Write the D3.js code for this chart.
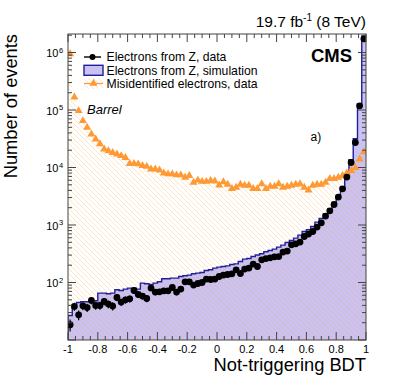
<!DOCTYPE html>
<html>
<head>
<meta charset="utf-8">
<script src="https://cdn.jsdelivr.net/npm/d3@7"></script>
<style>
  body { margin: 0; background: #fff; }
  svg { display: block; font-family: "Liberation Sans", Arial, sans-serif; }
</style>
</head>
<body>
<div id="chart"></div>
<script>
// 70 bins of the not-triggering BDT output, from -1 to 1
var nBins = 70;
var xMin = -1, xMax = 1;

// electrons from Z, data (black points)
var zData = [18.4, 38.3, 27.4, 39.3, 36.7, 48.6, 39.8, 39.8, 46.8, 42.1,
    38.9, 54.8, 45.6, 50.0, 52.1, 72.6, 61.8, 58.0, 52.7, 80.0,
    68.1, 68.9, 71.7, 71.7, 81.9, 68.1, 76.8, 102.8, 102.8, 90.1,
    96.1, 100, 114.6, 112.8, 114.6, 127.1, 134.5, 137.8, 141.7, 166.3,
    143.4, 171, 178, 208.9, 189.8, 248, 261, 269, 280, 283,
    338, 352, 453, 471, 504, 631, 695, 771, 919, 1092,
    1429, 1766, 2274, 3055, 4265, 6808, 12220, 27220, 118300, 1730000];

// electrons from Z, simulation (blue histogram)
var zSim = [26.7, 41.0, 44.9, 46.2, 46.2, 48.1, 48.1, 65.4, 65.4, 63.6,
    65.4, 74.6, 72.6, 76.8, 79.9, 79.9, 76.8, 97.6, 94.9, 92.3,
    97.6, 102.8, 116, 116, 119, 119, 127, 131, 134.5, 141.7,
    145.7, 149.3, 161.7, 166.3, 178, 185, 190, 195, 206, 211,
    232, 255, 261, 283, 300, 316, 342, 360, 381, 413,
    447, 496, 537, 591, 667, 771, 826, 942, 1122, 1297,
    1566, 1891, 2404, 3133, 4617, 7766, 13620, 31560, 128200, 1950000];

// misidentified electrons, data (orange triangles)
var fakeData = [950000, 168000, 97000, 65000, 49700, 38100, 31200, 25800, 20900, 19500,
    18200, 17100, 16000, 14900, 11700, 11700, 11500, 10800, 10400, 9400,
    9400, 9000, 8000, 7700, 7700, 7400, 7400, 6700, 7200, 5500,
    6000, 5700, 5700, 5900, 5800, 4940, 5600, 5100, 4300, 4500,
    5100, 4900, 4900, 4300, 4300, 5200, 4300, 4700, 4700, 5200,
    4500, 4700, 4900, 5100, 5200, 4500, 4050, 4900, 5100, 5100,
    5500, 6400, 6400, 6700, 7200, 8000, 8800, 9900, 14000, 18700];

var xTickVals = [-1, -0.8, -0.6, -0.4, -0.2, 0, 0.2, 0.4, 0.6, 0.8, 1];
var yDecades = [10, 100, 1000, 10000, 100000, 1000000];
var legendLabels = ["Electrons from Z, data", "Electrons from Z, simulation", "Misidentified electrons, data"];

var W = 407, H = 391;
var fL = 68, fR = 366, fT = 34, fB = 340;

var svg = d3.select("#chart").append("svg").attr("width", W).attr("height", H);

var x = d3.scaleLinear().domain([xMin, xMax]).range([fL, fR]);
var y = d3.scaleLog().domain([10, 2.1e6]).range([fB, fT]).clamp(true);

var bw = (xMax - xMin) / nBins;
var lo = function(i) { return xMin + i * bw; };
var mid = function(i) { return xMin + (i + 0.5) * bw; };

// hatch for the misidentified-electron histogram
var defs = svg.append("defs");
var pat = defs.append("pattern")
    .attr("id", "hatch")
    .attr("patternUnits", "userSpaceOnUse")
    .attr("width", 5).attr("height", 5);
pat.append("path")
    .attr("d", "M-1,-1 L6,6 M-1,4 L1,6 M4,-1 L6,1")
    .attr("stroke", "#ffa640").attr("stroke-opacity", 0.38)
    .attr("stroke-width", 0.8);

defs.append("clipPath").attr("id", "frame")
    .append("rect").attr("x", fL).attr("y", fT)
    .attr("width", fR - fL).attr("height", fB - fT);

var plot = svg.append("g").attr("clip-path", "url(#frame)");

// step outline helper: points for a histogram
function steps(vals) {
    var pts = [];
    vals.forEach(function(v, i) {
        pts.push([x(lo(i)), y(v)]);
        pts.push([x(lo(i + 1)), y(v)]);
    });
    return pts;
}
var areaGen = d3.area().x(function(d) { return d[0]; }).y0(fB).y1(function(d) { return d[1]; });
var lineGen = d3.line();

plot.append("path")
    .attr("d", areaGen(steps(zSim)))
    .attr("fill", "#c9c2f2");

plot.append("path")
    .attr("d", areaGen(steps(fakeData)))
    .attr("fill", "url(#hatch)");

var simPts = steps(zSim);
simPts.unshift([x(xMin), fB]);
plot.append("path")
    .attr("d", lineGen(simPts))
    .attr("fill", "none")
    .attr("stroke", "#1f1f9c")
    .attr("stroke-width", 1.4);

// orange triangles
var tri = d3.symbol().type(d3.symbolTriangle).size(28);
plot.selectAll(".fake").data(fakeData).enter().append("path")
    .attr("transform", function(d, i) { return "translate(" + x(mid(i)) + "," + y(d) + ")"; })
    .attr("d", tri)
    .attr("fill", "#ff9933");

// black points with poisson error bars
plot.selectAll(".err").data(zData).enter().append("line")
    .attr("x1", function(d, i) { return x(mid(i)); })
    .attr("x2", function(d, i) { return x(mid(i)); })
    .attr("y1", function(d) { return y(d + Math.sqrt(d)); })
    .attr("y2", function(d) { return y(Math.max(d - Math.sqrt(d), 1)); })
    .attr("stroke", "#000").attr("stroke-width", 1.2);
plot.selectAll(".zpt").data(zData).enter().append("circle")
    .attr("cx", function(d, i) { return x(mid(i)); })
    .attr("cy", function(d) { return y(d); })
    .attr("r", 3.4)
    .attr("fill", "#000");

// frame and ticks (ROOT style, inside, all four sides)
var axes = svg.append("g").attr("stroke", "#444").attr("stroke-width", 1);
axes.append("rect").attr("x", fL).attr("y", fT)
    .attr("width", fR - fL).attr("height", fB - fT).attr("fill", "none");

var minorX = d3.range(0, 41).map(function(i) { return xMin + i * 0.05; });
minorX.forEach(function(v) {
    var major = Math.abs(v * 5 - Math.round(v * 5)) < 1e-6;
    var len = major ? 8 : 4;
    axes.append("line").attr("x1", x(v)).attr("x2", x(v)).attr("y1", fB).attr("y2", fB - len);
    axes.append("line").attr("x1", x(v)).attr("x2", x(v)).attr("y1", fT).attr("y2", fT + len);
});

yDecades.forEach(function(dec) {
    d3.range(1, 10).forEach(function(k) {
        var v = dec * k;
        if (v > 2.1e6) return;
        var len = k === 1 ? 8 : 4;
        axes.append("line").attr("x1", fL).attr("x2", fL + len).attr("y1", y(v)).attr("y2", y(v));
        axes.append("line").attr("x1", fR).attr("x2", fR - len).attr("y1", y(v)).attr("y2", y(v));
    });
});

// tick labels
svg.selectAll(".xl").data(xTickVals).enter().append("text")
    .attr("x", function(d) { return x(d); })
    .attr("y", 352.5)
    .attr("text-anchor", "middle")
    .attr("font-size", 11)
    .text(function(d) { return d; });

var yLab = svg.selectAll(".yl").data(yDecades.slice(1)).enter().append("g")
    .attr("transform", function(d) { return "translate(0," + y(d) + ")"; });
yLab.append("text").attr("x", 58.5).attr("y", 4.5)
    .attr("text-anchor", "end").attr("font-size", 11).text("10");
yLab.append("text").attr("x", 59).attr("y", 0)
    .attr("font-size", 7.5).text(function(d) { return Math.round(Math.log10(d)); });

// axis titles
svg.append("text")
    .attr("x", fR).attr("y", 370.5)
    .attr("text-anchor", "end").attr("font-size", 18.3)
    .text("Not-triggering BDT");
svg.append("text")
    .attr("transform", "translate(17," + fT + ") rotate(-90)")
    .attr("text-anchor", "end").attr("font-size", 18.3)
    .text("Number of events");

// header
var lumi = svg.append("text").attr("x", fR).attr("y", 26.5)
    .attr("text-anchor", "end").attr("font-size", 15.5);
lumi.append("tspan").text("19.7 fb");
lumi.append("tspan").attr("dy", -6).attr("font-size", 10).text("-1");
lumi.append("tspan").attr("dy", 6).text(" (8 TeV)");

svg.append("text").attr("x", 352).attr("y", 61.7)
    .attr("text-anchor", "end").attr("font-size", 18.5).attr("font-weight", "bold")
    .text("CMS");

svg.append("text").attr("x", 87).attr("y", 114)
    .attr("font-size", 13).attr("font-style", "italic").text("Barrel");
svg.append("text").attr("x", 310.5).attr("y", 140.5)
    .attr("font-size", 12).text("a)");

// legend
var lg = svg.append("g");
var rowY = [57, 70.3, 83.5];
lg.append("line").attr("x1", 84).attr("x2", 101).attr("y1", rowY[0]).attr("y2", rowY[0])
    .attr("stroke", "#000").attr("stroke-width", 1.4);
lg.append("circle").attr("cx", 92.5).attr("cy", rowY[0]).attr("r", 3).attr("fill", "#000");
lg.append("rect").attr("x", 84).attr("y", rowY[1] - 5).attr("width", 19).attr("height", 10)
    .attr("fill", "#c9c2f2").attr("stroke", "#1f1f9c").attr("stroke-width", 1.4);
lg.append("rect").attr("x", 84).attr("y", rowY[2] - 5.5).attr("width", 19).attr("height", 11)
    .attr("fill", "url(#hatch)");
lg.append("line").attr("x1", 84).attr("x2", 103).attr("y1", rowY[2]).attr("y2", rowY[2])
    .attr("stroke", "#ff9933").attr("stroke-width", 1.2);
lg.append("path").attr("transform", "translate(93.5," + rowY[2] + ")").attr("d", tri).attr("fill", "#ff9933");
lg.selectAll(".lt").data(legendLabels).enter().append("text")
    .attr("x", 106.5)
    .attr("y", function(d, i) { return rowY[i] + 4.3; })
    .attr("font-size", 12.2)
    .text(function(d) { return d; });
</script>
</body>
</html>
